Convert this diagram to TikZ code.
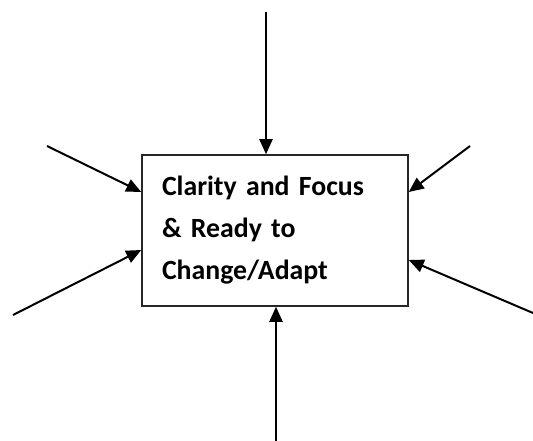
\documentclass[tikz,border=0pt]{standalone}
\usepackage{fontspec}
\setmainfont{Carlito}
\usetikzlibrary{arrows.meta,calc}

\tikzset{
  focusbox/.style={draw=black!85,line width=1.5pt,rectangle,minimum width=266pt,minimum height=151pt,
    text width=226pt,inner xsep=20pt,align=left,font=\fontsize{27.8}{42}\selectfont\bfseries},
  inarrow/.style={line width=2pt,-{Triangle[length=15pt,width=13pt]},shorten >=0pt}
}

\begin{document}
\begin{tikzpicture}[x=1pt,y=-1pt]

  \useasboundingbox (0,0) rectangle (533,441);

  % the box in the middle
  \node[focusbox] (box) at (275,230.5) {Clarity and Focus\\ \& Ready to\\ Change/Adapt};

  % free ends of the arrows
  \coordinate (top) at (266,12);
  \coordinate (bot) at (276,441);
  \coordinate (ul) at (47,146);
  \coordinate (ll) at (13,315);
  \coordinate (ur) at (470,146);
  \coordinate (lr) at (533,313);

  % arrows into the box
  \draw[inarrow] (top) -- (top |- box.north);
  \draw[inarrow] (bot) -- (bot |- box.south);
  \draw[inarrow] (ul) -- ($(box.west)+(0,-38.5)$);
  \draw[inarrow] (ll) -- ($(box.west)+(0,19.5)$);
  \draw[inarrow] (ur) -- ($(box.east)+(0,-38.5)$);
  \draw[inarrow] (lr) -- ($(box.east)+(0,29.5)$);

\end{tikzpicture}
\end{document}
